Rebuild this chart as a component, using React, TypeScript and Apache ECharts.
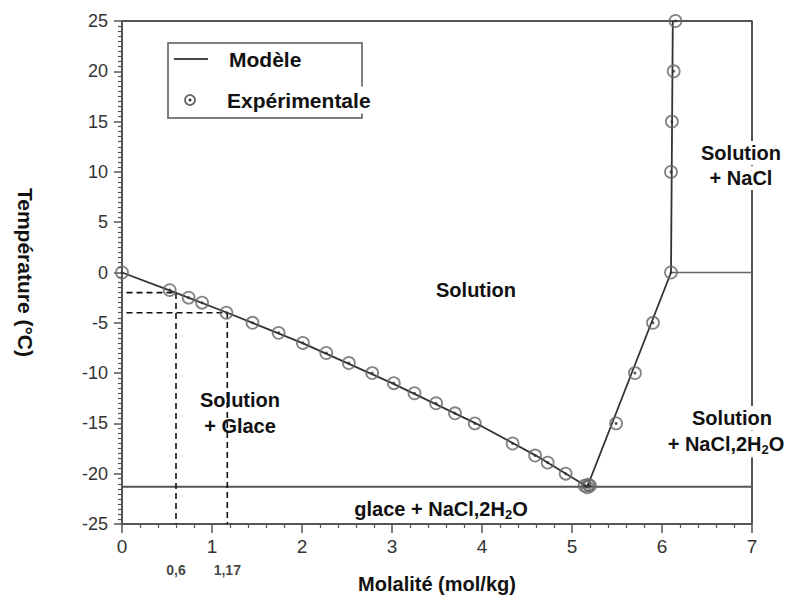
import React, { useEffect, useRef } from "react";
import * as echarts from "echarts";

// Model curve (ice liquidus, hydrohalite branch, halite branch)
const modelLine: [number, number][] = [
  [0, 0], [0.55, -1.85], [1.17, -4.0], [2.0, -7.0], [3.0, -11.0],
  [4.0, -15.3], [4.6, -18.2], [5.17, -21.3], [6.1, 0], [6.12, 25],
];

// Experimental points
const expPoints: [number, number][] = [
  [0, 0], [0.53, -1.75], [0.74, -2.5], [0.89, -3.0], [1.16, -4.0],
  [1.45, -5.0], [1.74, -6.0], [2.01, -7.0], [2.27, -8.0], [2.52, -9.0],
  [2.78, -10.0], [3.02, -11.0], [3.25, -12.0], [3.49, -13.0], [3.7, -14.0],
  [3.92, -15.0], [4.34, -17.0], [4.59, -18.2], [4.73, -18.9], [4.93, -20.0],
  [5.14, -21.2], [5.17, -21.35], [5.2, -21.2], [5.18, -21.1],
  [5.49, -15.0], [5.7, -10.0], [5.9, -5.0],
  [6.1, 0], [6.1, 10], [6.11, 15], [6.13, 20], [6.15, 25],
];

// Phase boundaries / frame
const eutecticLine: [number, number][] = [[0, -21.3], [7, -21.3]];
const zeroLine: [number, number][] = [[6.1, 0], [7, 0]];
const frameLine: [number, number][] = [[0, 25], [7, 25], [7, -25]];

// Dashed guides
const guide1: [number, number][] = [[0.05, -2], [0.6, -2], [0.6, -25]];
const guide2: [number, number][] = [[0.05, -4], [1.17, -4], [1.17, -25]];
const guidePoints: [number, number][] = [[0.6, -25], [1.17, -25]];
const guideLabels = ["0,6", "1,17"];

const FONT = "'Liberation Sans', Arial, sans-serif";

export default function App() {
  const ref = useRef<HTMLDivElement>(null);
  useEffect(() => {
    if (!ref.current) return;
    const chart = echarts.init(ref.current, undefined, { renderer: "svg" });

    const labelStyle = (text: string, x: number, y: number, bg = false, rich = false): any => ({
      type: "text",
      x,
      y,
      z: 100,
      style: {
        text,
        x: 0,
        y: 0,
        align: "center",
        verticalAlign: "middle",
        fontFamily: FONT,
        fontWeight: "bold",
        fontSize: 20,
        fill: "#111",
        backgroundColor: bg ? "#fff" : undefined,
        padding: bg ? [2, 2] : 0,
        rich: rich
          ? {
              b: { fontFamily: FONT, fontWeight: "bold", fontSize: 20, fill: "#111", color: "#111" },
              s: { fontFamily: FONT, fontWeight: "bold", fontSize: 13, fill: "#111", color: "#111", padding: [10, 0, 0, 0] },
            }
          : undefined,
      },
    });

    const lineSeries = (data: [number, number][], color: string, width: number, type: any = "solid", z = 2) => ({
      type: "line",
      data,
      symbol: "none",
      showSymbol: false,
      silent: true,
      clip: false,
      z,
      lineStyle: { color, width, type },
    });

    chart.setOption({
      animation: false,
      backgroundColor: "#fff",
      grid: { left: 122, right: 45, top: 21, bottom: 77 },
      xAxis: {
        type: "value",
        min: 0,
        max: 7,
        interval: 1,
        name: "Molalité (mol/kg)",
        nameLocation: "middle",
        nameGap: 50,
        nameTextStyle: { fontFamily: FONT, fontWeight: "bold", fontSize: 20, color: "#111" },
        axisLine: { show: true, onZero: false, lineStyle: { color: "#555", width: 2 } },
        axisTick: { show: true, length: 9, lineStyle: { color: "#555", width: 1.5 } },
        minorTick: { show: true, splitNumber: 5, length: 4, lineStyle: { color: "#555", width: 1.2 } },
        splitLine: { show: false },
        axisLabel: { fontFamily: FONT, fontSize: 19, color: "#333", margin: 13 },
      },
      yAxis: {
        type: "value",
        min: -25,
        max: 25,
        interval: 5,
        name: "Température (°C)",
        nameLocation: "middle",
        nameRotate: -90,
        nameGap: 86,
        nameTextStyle: { fontFamily: FONT, fontWeight: "bold", fontSize: 21, color: "#111" },
        axisLine: { show: true, onZero: false, lineStyle: { color: "#555", width: 2 } },
        axisTick: { show: true, length: 8, lineStyle: { color: "#555", width: 1.5 } },
        minorTick: { show: true, splitNumber: 10, length: 4, lineStyle: { color: "#555", width: 1.2 } },
        splitLine: { show: false },
        axisLabel: { fontFamily: FONT, fontSize: 18, color: "#333", margin: 14 },
      },
      series: [
        lineSeries(frameLine, "#555", 2, "solid", 1),
        lineSeries(eutecticLine, "#555", 2, "solid", 1),
        lineSeries(zeroLine, "#666", 1.5, "solid", 1),
        lineSeries(guide1, "#111", 1.6, [6, 4], 2),
        lineSeries(guide2, "#111", 1.6, [6, 4], 2),
        lineSeries(modelLine, "#333", 1.8, "solid", 3),
        {
          type: "scatter",
          data: expPoints,
          symbol: "circle",
          symbolSize: 12,
          silent: true,
          clip: false,
          z: 4,
          itemStyle: { color: "rgba(0,0,0,0)", borderColor: "#666", borderWidth: 1.8 },
        },
        {
          type: "scatter",
          data: expPoints,
          symbol: "circle",
          symbolSize: 3,
          silent: true,
          clip: false,
          z: 5,
          itemStyle: { color: "#333" },
        },
        {
          type: "scatter",
          data: guidePoints,
          symbolSize: 1,
          silent: true,
          clip: false,
          itemStyle: { color: "rgba(0,0,0,0)" },
          label: {
            show: true,
            position: "bottom",
            distance: 38,
            formatter: (p: any) => guideLabels[p.dataIndex],
            fontFamily: FONT,
            fontWeight: "bold",
            fontSize: 14,
            color: "#111",
          },
        },
      ],
      graphic: [
        // Legend
        { type: "rect", z: 90, shape: { x: 168, y: 43, width: 194, height: 75 }, style: { fill: "#fff", stroke: "#555", lineWidth: 1.5 } },
        { type: "line", z: 91, shape: { x1: 174, y1: 59, x2: 208, y2: 59 }, style: { stroke: "#444", lineWidth: 2 } },
        { type: "text", z: 91, x: 229, y: 59, style: { text: "Modèle", align: "left", verticalAlign: "middle", fontFamily: FONT, fontWeight: "bold", fontSize: 21, fill: "#111" } },
        { type: "circle", z: 91, shape: { cx: 190, cy: 100, r: 5 }, style: { fill: "none", stroke: "#666", lineWidth: 1.8 } },
        { type: "circle", z: 92, shape: { cx: 190, cy: 100, r: 1.5 }, style: { fill: "#333" } },
        { type: "text", z: 93, x: 227, y: 100, style: { text: "Expérimentale", align: "left", verticalAlign: "middle", fontFamily: FONT, fontWeight: "bold", fontSize: 21, fill: "#111", backgroundColor: "#fff", padding: [3, 0] } },
        // Region labels
        labelStyle("Solution", 476, 290),
        labelStyle("Solution", 240, 400),
        labelStyle("+ Glace", 240, 426),
        labelStyle("Solution", 741, 153, true),
        labelStyle("+ NaCl", 741, 178, true),
        labelStyle("Solution", 732, 418, true),
        labelStyle("{b|+ NaCl,2H}{s|2}{b|O}", 726, 444, true, true),
        labelStyle("{b|glace + NaCl,2H}{s|2}{b|O}", 441, 509, false, true),
      ],
    });
    return () => chart.dispose();
  }, []);
  return <div ref={ref} style={{ position: "absolute", left: 0, top: 0, width: 797, height: 601 }} />;
}
